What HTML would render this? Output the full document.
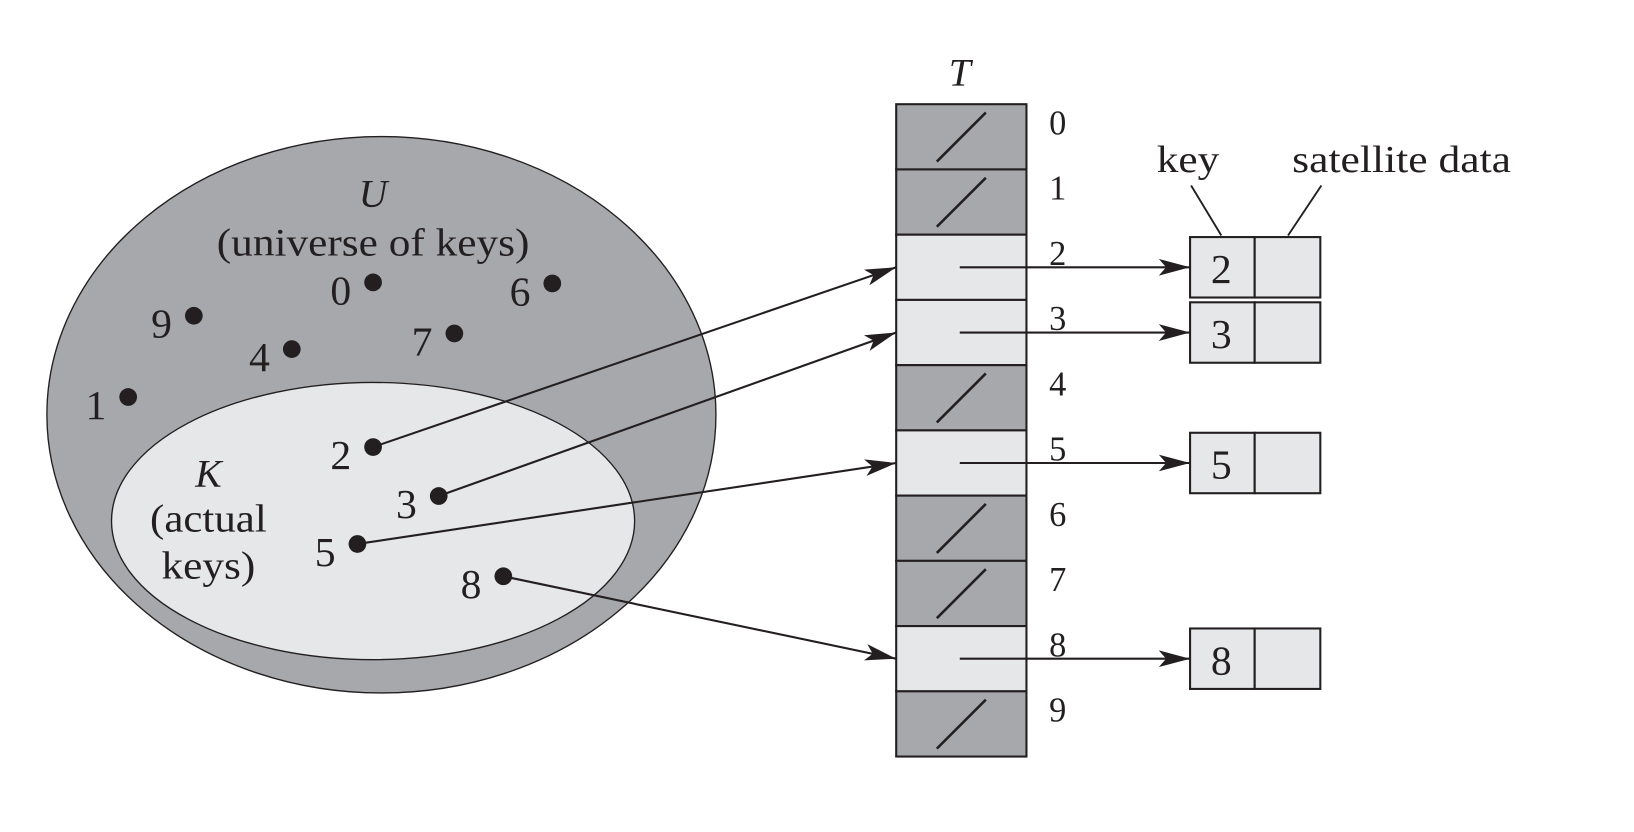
<!DOCTYPE html>
<html><head><meta charset="utf-8"><style>
html,body{margin:0;padding:0;background:#fff;}
svg{display:block;font-family:"Liberation Serif",serif;}
</style></head><body>
<svg id="fig" width="1634" height="832" viewBox="0 0 1568 798.4" xmlns="http://www.w3.org/2000/svg">
<defs>
<marker id="ah" markerWidth="32" markerHeight="16" refX="30" refY="8" orient="auto" markerUnits="userSpaceOnUse">
<path d="M0,0 L30,8 L0,16 L7,8 Z" fill="#231f20"/>
</marker>
</defs>
</svg>
<script>
const allKeys=[0,1,2,3,4,5,6,7,8,9];
const actualKeys=[2,3,5,8];
const keyDotX=[358,123,358,421,280,343,530,436,483,186];
const keyDotY=[271,381,429,476,335,522,272,320,553,303];
const slotLabels=["0","1","2","3","4","5","6","7","8","9"];

const NS="http://www.w3.org/2000/svg";
const svg=document.getElementById('fig');
const DARK="#a7a8ab",LIGHT="#e6e7e8",INK="#231f20";
function mk(tag,attrs,parent){const e=document.createElementNS(NS,tag);for(const k in attrs)e.setAttribute(k,attrs[k]);(parent||svg).appendChild(e);return e;}
function txt(s,x,y,size,extra){const t=mk('text',Object.assign({x:x,y:y,'font-size':size,'text-anchor':'middle',fill:INK},extra||{}));t.textContent=s;return t;}
function wide(len){return {textLength:len,lengthAdjust:'spacingAndGlyphs'};}

const tX=860,tW=125,tY=100,rowH=62.6;
function rowTop(i){return tY+i*rowH;}
function rowMid(i){return rowTop(i)+rowH/2;}

let e=mk('ellipse',{cx:366,cy:398,rx:321,ry:267,fill:DARK,stroke:INK,'stroke-width':1.3});


e=mk('ellipse',{cx:358,cy:500,rx:251,ry:133,fill:LIGHT,stroke:INK,'stroke-width':1.3});



let t=txt('U',358,198,38,{'font-style':'italic'});


t=txt('(universe of keys)',358,245,38,wide(300));


t=txt('K',200,467,38,{'font-style':'italic'});


t=txt('(actual',200,510,38,wide(112));


t=txt('keys)',200,555,38,wide(90));



t=txt('T',921,82,38,{'font-style':'italic'});


slotLabels.forEach((lab,i)=>{
  const used=actualKeys.indexOf(i)>=0;
  const r=mk('rect',{x:tX,y:rowTop(i),width:tW,height:rowH,fill:used?LIGHT:DARK,stroke:INK,'stroke-width':2});
  
  
  if(!used){
    const l=mk('line',{x1:tX+39,y1:rowTop(i)+55,x2:tX+86,y2:rowTop(i)+8,stroke:INK,'stroke-width':2.5});
    
    
  }
  const tl=txt(lab,1015,rowTop(i)+29,33);
  
  
});

allKeys.forEach((k,i)=>{
  const d=mk('circle',{cx:keyDotX[i],cy:keyDotY[i],r:8.5,fill:INK});
  
  
  const l=txt(String(k),keyDotX[i]-31,keyDotY[i]+21,40);
  
  
});

const bX=1142,bW1=62,bW2=63,bH=58;
actualKeys.forEach(k=>{
  const i=allKeys.indexOf(k);
  const a=mk('line',{x1:keyDotX[i],y1:keyDotY[i],x2:tX,y2:rowMid(k),stroke:INK,'stroke-width':2,'marker-end':'url(#ah)'});
  
  
  const p=mk('line',{x1:921,y1:rowMid(k),x2:bX,y2:rowMid(k),stroke:INK,'stroke-width':2,'marker-end':'url(#ah)'});
  
  
  const by=rowMid(k)-bH/2;
  const r1=mk('rect',{x:bX,y:by,width:bW1,height:bH,fill:LIGHT,stroke:INK,'stroke-width':2});
  
  
  const r2=mk('rect',{x:bX+bW1,y:by,width:bW2,height:bH,fill:LIGHT,stroke:INK,'stroke-width':2});
  
  
  const kl=txt(String(k),bX+bW1/2-1,by+44,40);
  
  
});

t=txt('key',1140,165,37,wide(60));


t=txt('satellite data',1345,165,37,wide(210));


let l=mk('line',{x1:1143,y1:178,x2:1172,y2:226,stroke:INK,'stroke-width':1.8});


l=mk('line',{x1:1268,y1:178,x2:1236,y2:226,stroke:INK,'stroke-width':1.8});


</script>
</body></html>
